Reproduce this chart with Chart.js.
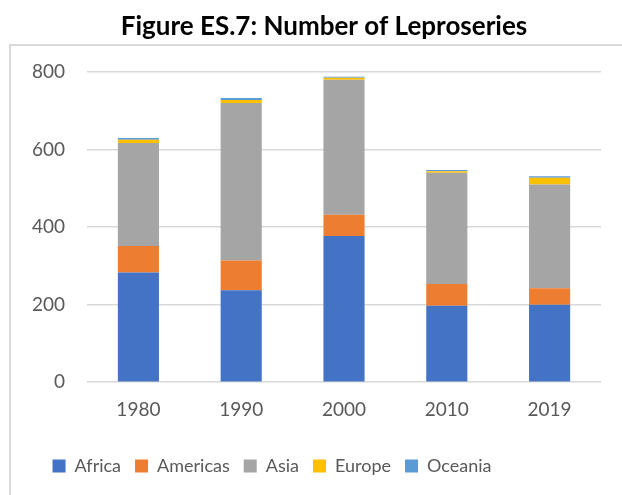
<!DOCTYPE html>
<html>
<head>
<meta charset="utf-8">
<script src="https://cdn.jsdelivr.net/npm/chart.js@4"></script>
<style>
html,body{margin:0;padding:0;background:#fff;}
#wrap{position:relative;width:622px;height:495px;}
</style>
</head>
<body>
<div id="wrap"><canvas id="c" width="622" height="495"></canvas></div>
<script>
const categories = ["1980", "1990", "2000", "2010", "2019"];
const africa   = [283, 237, 377, 197, 200];
const americas = [68, 77, 55, 56, 42];
const asia     = [266, 406, 348, 287, 268];
const europe   = [8, 8, 5, 4, 17];
const oceania  = [5, 5, 3, 3, 4];
const yTicks   = [0, 200, 400, 600, 800];
const titleText = "Figure ES.7: Number of Leproseries";

const FONT = "Lato, 'Open Sans', sans-serif";

const framePlugin = {
  id: 'frame',
  beforeDraw(chart) {
    const ctx = chart.ctx;
    ctx.save();
    ctx.strokeStyle = '#d9d9d9';
    ctx.lineWidth = 2;
    ctx.strokeRect(10, 45, 700, 600);
    ctx.fillStyle = '#000';
    ctx.font = "bold 26px " + FONT;
    ctx.textAlign = 'center';
    ctx.textBaseline = 'middle';
    ctx.fillText(titleText, 324, 27);
    ctx.restore();
  },
  afterLayout(chart) {
    const lg = chart.legend;
    if (lg) { lg.left = 9; lg.right = 535; lg.width = 526; }
  }
};

new Chart(document.getElementById('c'), {
  type: 'bar',
  data: {
    labels: categories,
    datasets: [
      { label: 'Africa', data: africa, backgroundColor: '#4472c4' },
      { label: 'Americas', data: americas, backgroundColor: '#ed7d31' },
      { label: 'Asia', data: asia, backgroundColor: '#a5a5a5' },
      { label: 'Europe', data: europe, backgroundColor: '#ffc000' },
      { label: 'Oceania', data: oceania, backgroundColor: '#5b9bd5' }
    ]
  },
  options: {
    responsive: false,
    animation: false,
    layout: { padding: { left: 0, right: 21, top: 72, bottom: 10 } },
    datasets: { bar: { categoryPercentage: 1, barPercentage: 0.4 } },
    plugins: {
      title: { display: false },
      legend: {
        position: 'bottom',
        labels: {
          boxWidth: 13, boxHeight: 13,
          color: '#595959',
          font: { family: FONT, size: 18 },
          padding: 14
        }
      },
      tooltip: { enabled: false }
    },
    scales: {
      x: {
        stacked: true,
        grid: { display: false, drawTicks: false },
        border: { display: false },
        afterFit(scale) { scale.height += 6; },
        ticks: { color: '#595959', font: { family: FONT, size: 19 }, padding: 16 }
      },
      y: {
        stacked: true,
        min: 0, max: 800,
        afterBuildTicks(scale) { scale.ticks = yTicks.map(v => ({ value: v })); },
        afterFit(scale) { scale.width = 87; },
        grid: { color: '#d9d9d9', lineWidth: 1.5, drawTicks: false },
        border: { display: false },
        ticks: { color: '#595959', font: { family: FONT, size: 19 }, padding: 22 }
      }
    }
  },
  plugins: [framePlugin]
});
</script>
</body>
</html>
